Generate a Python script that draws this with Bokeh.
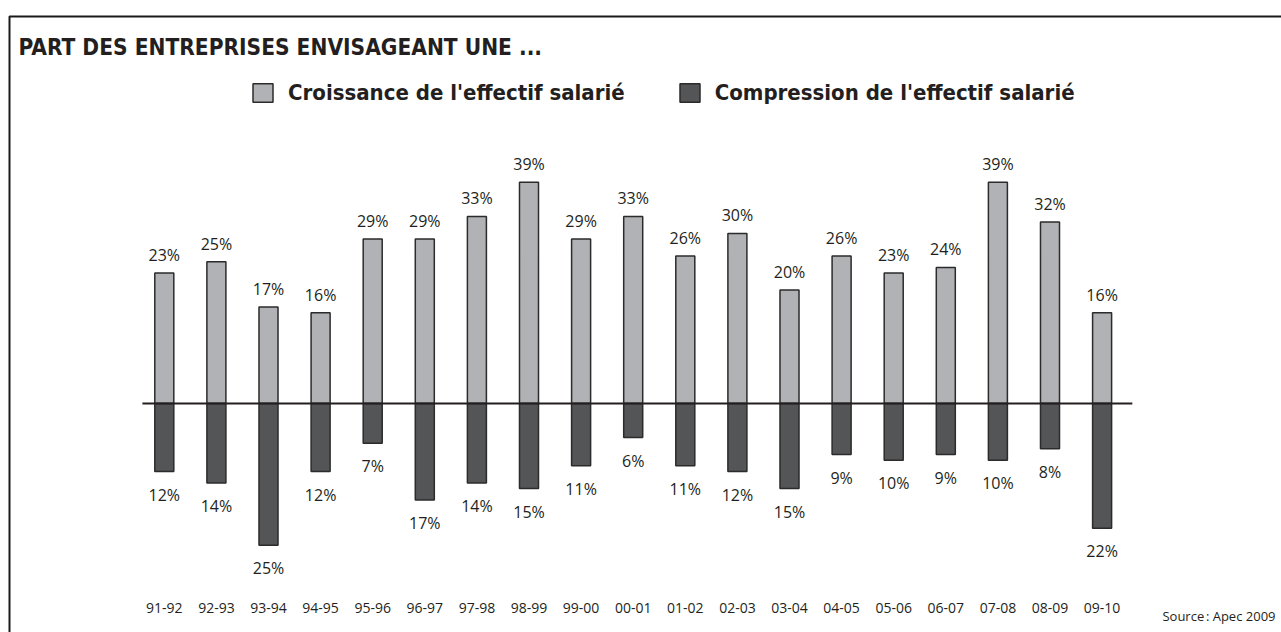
from bokeh.plotting import figure
from bokeh.models import (ColumnDataSource, Label, Legend, LegendItem,
                          BoxAnnotation, Range1d)
from bokeh.core.properties import value
from bokeh.embed import file_html
from bokeh.resources import INLINE

# ---------------- data ----------------
periods = ["91-92", "92-93", "93-94", "94-95", "95-96", "96-97", "97-98",
           "98-99", "99-00", "00-01", "01-02", "02-03", "03-04", "04-05",
           "05-06", "06-07", "07-08", "08-09", "09-10"]
croissance = [23, 25, 17, 16, 29, 29, 33, 39, 29, 33, 26, 30, 20, 26, 23, 24, 39, 32, 16]
compression = [12, 14, 25, 12, 7, 17, 14, 15, 11, 6, 11, 12, 15, 9, 10, 9, 10, 8, 22]
series_names = ["Croissance de l'effectif salarié", "Compression de l'effectif salarié"]
title_text = "PART DES ENTREPRISES ENVISAGEANT UNE ..."
source_text = "Source\u202f: Apec 2009"

# ---------------- styles ----------------
TXT = "#231f20"
LIGHT = "#b1b2b5"
DARK = "#545557"
EDGE = "#2b2b2b"
COND = "DejaVu Sans Condensed, Liberation Sans Narrow, DejaVu Sans"
NUMF = "Open Sans"

W, H = 1281, 632
STEP = 52.1          # px per category
FIRST = 163.8        # px centre of first category
ZERO = 403           # px of the zero line
PPU = 5.67           # px per percentage point

src = ColumnDataSource(dict(
    pos=list(range(len(periods))),
    cat=periods,
    up=croissance,
    down=[-v for v in compression],
    up_lbl=[f"{v}%" for v in croissance],
    down_lbl=[f"{v}%" for v in compression],
))

x0 = -FIRST / STEP
p = figure(x_range=Range1d(x0, x0 + W / STEP),
           y_range=Range1d(-(H - ZERO) / PPU, ZERO / PPU),
           width=W, height=H, output_backend="svg", toolbar_location=None,
           min_border=0)
p.outline_line_color = None
p.grid.visible = False
p.axis.visible = False

r1 = p.vbar(x="pos", top="up", bottom=0, width=0.365, source=src,
            fill_color=LIGHT, line_color=EDGE, line_width=1.5)
r2 = p.vbar(x="pos", top=0, bottom="down", width=0.365, source=src,
            fill_color=DARK, line_color=EDGE, line_width=1.5)

# zero line spanning the categories
p.segment(x0=-0.42, y0=0, x1=len(periods) - 1 + 0.58, y1=0,
          line_color=TXT, line_width=2)

p.text(x="pos", y="up", text="up_lbl", source=src, y_offset=-18,
       text_align="center", text_baseline="middle", text_font=value(NUMF),
       text_font_size="16px", text_color=TXT)
p.text(x="pos", y="down", text="down_lbl", source=src, y_offset=23,
       text_align="center", text_baseline="middle", text_font=value(NUMF),
       text_font_size="16px", text_color=TXT)
# category labels along the bottom
p.text(x="pos", y=0, text="cat", source=src, y_offset=607 - ZERO,
       text_align="center", text_baseline="middle", text_font=value(NUMF),
       text_font_size="14px", text_color=TXT)

legend = Legend(items=[LegendItem(label=series_names[0], renderers=[r1]),
                       LegendItem(label=series_names[1], renderers=[r2])],
                orientation="horizontal", location=(250, H - 105),
                glyph_width=25, glyph_height=23, label_standoff=13,
                spacing=52, padding=0, margin=0, label_height=23,
                border_line_color=None, background_fill_alpha=0,
                label_text_font=COND, label_text_font_style="bold",
                label_text_font_size="22px", label_text_color=TXT)
p.add_layout(legend)

p.add_layout(Label(x=18, y=H - 46, x_units="screen", y_units="screen",
                   text=title_text, text_font=COND, text_font_style="bold",
                   text_font_size="22.5px", text_color=TXT, text_baseline="middle"))
p.add_layout(Label(x=1275, y=H - 615, x_units="screen", y_units="screen",
                   text=source_text, text_font=NUMF, text_font_size="13px",
                   text_color=TXT, text_baseline="middle", text_align="right"))
p.add_layout(BoxAnnotation(left=9, top=H - 16, right=W + 50, bottom=-50,
                           left_units="screen", right_units="screen",
                           top_units="screen", bottom_units="screen",
                           fill_alpha=0, line_color="#1a1a1a", line_alpha=1,
                           line_width=2))

open("out.html", "w").write(file_html(p, INLINE))
